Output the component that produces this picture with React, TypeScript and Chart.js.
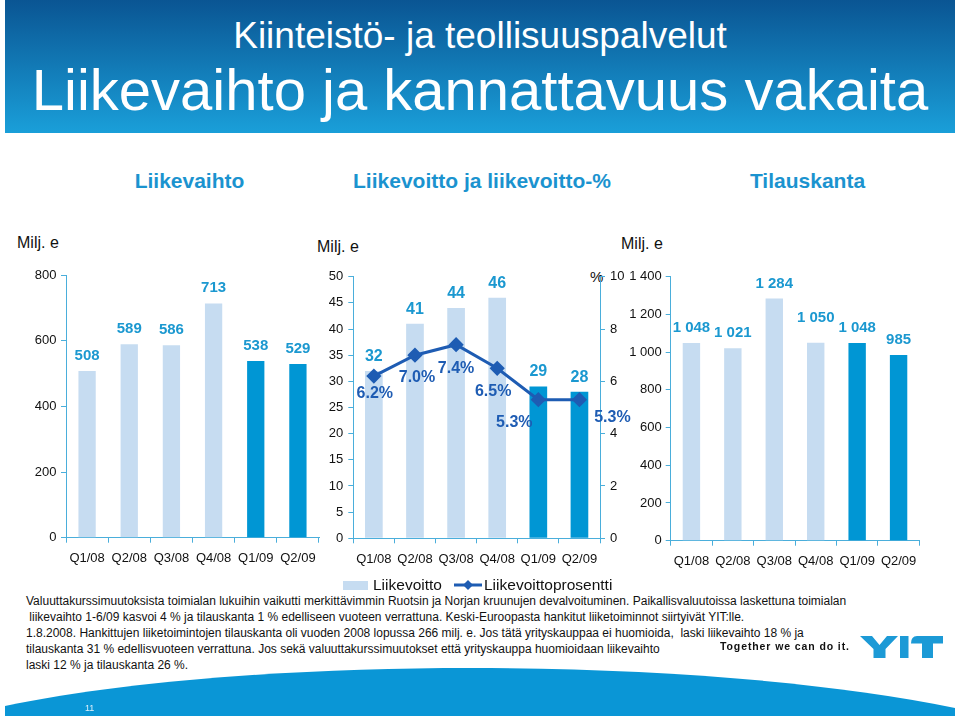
import { useEffect, useRef } from 'react';
import { Chart, registerables } from 'chart.js';

Chart.register(...registerables);

// ---------- data ----------
const quarters = ['Q1/08', 'Q2/08', 'Q3/08', 'Q4/08', 'Q1/09', 'Q2/09'];
const liikevaihto = [508, 589, 586, 713, 538, 529];
const liikevoitto = [32, 41, 44, 46, 29, 28];
const liikevoittoPct = [6.2, 7.0, 7.4, 6.5, 5.3, 5.3];
const tilauskanta = [1048, 1021, 1284, 1050, 1048, 985];

const liikevaihtoTicks = [0, 200, 400, 600, 800];
const liikevoittoTicks = [0, 5, 10, 15, 20, 25, 30, 35, 40, 45, 50];
const pctTicks = [0, 2, 4, 6, 8, 10];
const tilauskantaTicks = [0, 200, 400, 600, 800, 1000, 1200, 1400];

// label placement tweaks (relative to the point / bar top)
const pctLabelOffsets = [[1, 17], [2, 22], [0, 24], [-4, 23], [-24, 23], [33, 18]];
const tilausLabelRaise = [0, 0, 0, 10, 0, 0];

const footerLines = [
  'Valuuttakurssimuutoksista toimialan lukuihin vaikutti merkittävimmin Ruotsin ja Norjan kruunujen devalvoituminen. Paikallisvaluutoissa laskettuna toimialan',
  ' liikevaihto 1-6/09 kasvoi 4 % ja tilauskanta 1 % edelliseen vuoteen verrattuna. Keski-Euroopasta hankitut liiketoiminnot siirtyivät YIT:lle.',
  '1.8.2008. Hankittujen liiketoimintojen tilauskanta oli vuoden 2008 lopussa 266 milj. e. Jos tätä yrityskauppaa ei huomioida,  laski liikevaihto 18 % ja',
  'tilauskanta 31 % edellisvuoteen verrattuna. Jos sekä valuuttakurssimuutokset että yrityskauppa huomioidaan liikevaihto',
  'laski 12 % ja tilauskanta 26 %.',
];

// ---------- styles ----------
const FONT = "'Liberation Sans', Arial, Helvetica, sans-serif";
const AXIS = '#4aaedb';
const LIGHT = '#c6dcf1';
const DARK = '#0096d4';
const LABEL_BLUE = '#1b98d0';
const LINE_BLUE = '#1e5cb3';
const SUB_BLUE = '#1b93cf';

const fmt = (v: number) => String(v).replace(/\B(?=(\d{3})+(?!\d))/g, ' ');
const barColors = quarters.map((q) => (q.endsWith('/09') ? DARK : LIGHT));

const xScale = (height: number) => ({
  type: 'category',
  offset: true,
  grid: { display: true, drawOnChartArea: false, drawTicks: true, tickLength: 5, color: AXIS, offset: true },
  border: { display: true, color: AXIS, width: 1 },
  ticks: { color: '#111', font: { family: FONT, size: 13 }, padding: 8, maxRotation: 0, autoSkip: false },
  afterFit: (s: any) => { s.height = height; },
});

const yScale = (ticksArr: number[], width: number, position: string, padding: number) => ({
  type: 'linear',
  position,
  min: ticksArr[0],
  max: ticksArr[ticksArr.length - 1],
  afterBuildTicks: (s: any) => { s.ticks = ticksArr.map((v) => ({ value: v })); },
  grid: { drawOnChartArea: false, drawTicks: true, tickLength: 5, color: AXIS },
  border: { display: true, color: AXIS, width: 1 },
  ticks: { color: '#111', font: { family: FONT, size: 13 }, padding, callback: (v: any) => fmt(Number(v)) },
  afterFit: (s: any) => { s.width = width; },
});

const valueLabels = (dsIndex: number, raise: number, size: number, extra?: number[]) => ({
  id: 'valueLabels',
  afterDatasetsDraw(chart: any) {
    const meta = chart.getDatasetMeta(dsIndex);
    const data = chart.data.datasets[dsIndex].data as number[];
    const ctx = chart.ctx;
    ctx.save();
    ctx.font = `bold ${size}px ${FONT}`;
    ctx.fillStyle = LABEL_BLUE;
    ctx.textAlign = 'center';
    ctx.textBaseline = 'middle';
    meta.data.forEach((el: any, i: number) => {
      ctx.fillText(fmt(data[i]), el.x, el.y - raise - (extra ? extra[i] : 0));
    });
    ctx.restore();
  },
});

const pctLabels = (dsIndex: number) => ({
  id: 'pctLabels',
  afterDatasetsDraw(chart: any) {
    const meta = chart.getDatasetMeta(dsIndex);
    const data = chart.data.datasets[dsIndex].data as number[];
    const ctx = chart.ctx;
    ctx.save();
    ctx.font = `bold 16px ${FONT}`;
    ctx.fillStyle = LINE_BLUE;
    ctx.textAlign = 'center';
    ctx.textBaseline = 'middle';
    meta.data.forEach((el: any, i: number) => {
      const [dx, dy] = pctLabelOffsets[i];
      ctx.fillText(data[i].toFixed(1) + '%', el.x + dx, el.y + dy);
    });
    ctx.restore();
  },
});

const baseOptions = (padding: any) => ({
  responsive: false,
  animation: false,
  devicePixelRatio: 1,
  layout: { padding },
  plugins: { legend: { display: false }, tooltip: { enabled: false } },
});

export default function App() {
  const leftRef = useRef<HTMLCanvasElement>(null);
  const midRef = useRef<HTMLCanvasElement>(null);
  const rightRef = useRef<HTMLCanvasElement>(null);

  useEffect(() => {
    const charts: Chart[] = [];
    charts.push(
      new Chart(leftRef.current as HTMLCanvasElement, {
        type: 'bar',
        data: {
          labels: quarters,
          datasets: [{ data: liikevaihto, backgroundColor: barColors, barPercentage: 0.41, categoryPercentage: 1 }],
        },
        options: {
          ...baseOptions({ left: 0, top: 15, right: 11, bottom: 0 }),
          scales: { x: xScale(42.3), y: yScale(liikevaihtoTicks, 66, 'left', 4.5) },
        } as any,
        plugins: [valueLabels(0, 15.5, 15)],
      })
    );
    charts.push(
      new Chart(midRef.current as HTMLCanvasElement, {
        type: 'bar',
        data: {
          labels: quarters,
          datasets: [
            {
              type: 'bar',
              data: liikevoitto,
              yAxisID: 'y',
              order: 1,
              backgroundColor: barColors,
              barPercentage: 0.43,
              categoryPercentage: 1,
            },
            {
              type: 'line',
              data: liikevoittoPct,
              yAxisID: 'y1',
              order: 0,
              borderColor: LINE_BLUE,
              borderWidth: 3,
              pointStyle: 'rectRot',
              pointRadius: 5.5,
              pointBackgroundColor: LINE_BLUE,
              pointBorderColor: LINE_BLUE,
              tension: 0,
            },
          ],
        } as any,
        options: {
          ...baseOptions({ left: 0, top: 16.7, right: 0, bottom: 0 }),
          scales: {
            x: xScale(41.7),
            y: yScale(liikevoittoTicks, 63.3, 'left', 5),
            y1: yScale(pctTicks, 50, 'right', 5),
          },
        } as any,
        plugins: [valueLabels(0, 14.5, 16), pctLabels(1)],
      })
    );
    charts.push(
      new Chart(rightRef.current as HTMLCanvasElement, {
        type: 'bar',
        data: {
          labels: quarters,
          datasets: [{ data: tilauskanta, backgroundColor: barColors, barPercentage: 0.42, categoryPercentage: 1 }],
        },
        options: {
          ...baseOptions({ left: 0, top: 16.7, right: 40.7, bottom: 0 }),
          scales: { x: xScale(39.3), y: yScale(tilauskantaTicks, 50.7, 'left', 4) },
        } as any,
        plugins: [valueLabels(0, 15, 15, tilausLabelRaise)],
      })
    );
    return () => charts.forEach((c) => c.destroy());
  }, []);

  const abs = (s: any) => ({ position: 'absolute', margin: 0, fontFamily: FONT, whiteSpace: 'pre', ...s });

  return (
    <div style={{ position: 'absolute', left: 0, top: 0, width: 960, height: 716, overflow: 'hidden', background: '#fff', fontFamily: FONT }}>
      {/* header */}
      <div style={abs({ left: 5, top: 0, width: 950, height: 133, background: 'linear-gradient(180deg, #0a5593 0%, #1a9fd9 100%)' })}>
        <div style={abs({ left: 0, top: 17, width: 950, textAlign: 'center', color: '#fff', fontSize: 37, lineHeight: '37px' })}>
          Kiinteistö- ja teollisuuspalvelut
        </div>
        <div style={abs({ left: 0, top: 61, width: 950, textAlign: 'center', color: '#fff', fontSize: 58, lineHeight: '58px' })}>
          Liikevaihto ja kannattavuus vakaita
        </div>
      </div>

      {/* section titles */}
      {[
        ['Liikevaihto', 189.5],
        ['Liikevoitto ja liikevoitto-%', 482],
        ['Tilauskanta', 807.5],
      ].map(([t, cx]) => (
        <div key={t as string} style={abs({ left: (cx as number) - 200, top: 170.2, width: 400, textAlign: 'center', color: SUB_BLUE, fontWeight: 'bold', fontSize: 21, lineHeight: '21px' })}>
          {t}
        </div>
      ))}

      {/* unit labels */}
      <div style={abs({ left: 17, top: 235, fontSize: 16, lineHeight: '16px', color: '#111' })}>Milj. e</div>
      <div style={abs({ left: 317, top: 239, fontSize: 16, lineHeight: '16px', color: '#111' })}>Milj. e</div>
      <div style={abs({ left: 621, top: 236, fontSize: 16, lineHeight: '16px', color: '#111' })}>Milj. e</div>
      <div style={abs({ left: 590, top: 268.7, fontSize: 15, lineHeight: '15px', color: '#111' })}>%</div>

      {/* charts */}
      <canvas ref={leftRef} width={330} height={320} style={{ position: 'absolute', left: 0, top: 260, width: 330, height: 320 }} />
      <canvas ref={midRef} width={360} height={320} style={{ position: 'absolute', left: 290, top: 260, width: 360, height: 320 }} />
      <canvas ref={rightRef} width={340} height={320} style={{ position: 'absolute', left: 620, top: 260, width: 340, height: 320 }} />

      {/* legend for middle chart */}
      <div style={abs({ left: 343, top: 581, width: 25, height: 9, background: LIGHT })} />
      <div style={abs({ left: 373, top: 577.4, fontSize: 15.5, lineHeight: '15.5px', color: '#111' })}>Liikevoitto</div>
      <svg style={{ position: 'absolute', left: 452, top: 578 }} width={32} height={14}>
        <line x1={2} y1={7} x2={30} y2={7} stroke={LINE_BLUE} strokeWidth={3} />
        <polygon points="16,2 21,7 16,12 11,7" fill={LINE_BLUE} />
      </svg>
      <div style={abs({ left: 484, top: 577.4, fontSize: 15.5, lineHeight: '15.5px', color: '#111' })}>Liikevoittoprosentti</div>

      {/* footer text */}
      <div style={abs({ left: 26, top: 594.4, fontSize: 12, lineHeight: '15.8px', color: '#111' })}>
        {footerLines.join('\n')}
      </div>

      {/* bottom arc + logo */}
      <svg style={{ position: 'absolute', left: 0, top: 0 }} width={960} height={716}>
        <path d="M5,716 L5,706 C250,655 700,655 955,708 L955,716 Z" fill="#0a96d6" />
        <g fill="#1c9ad6">
          <polygon points="860,636 872,636 879.5,645 887,636 898,636 885.5,649 885.5,658 873.5,658 873.5,649" />
          <rect x={900} y={636} width={8.5} height={22} />
          <path d="M917,636 L943,636 L943,643.5 L933,643.5 L933,658 L922,658 L922,643.5 L911,643.5 Q911,636 917,636 Z" />
        </g>
      </svg>
      <div style={abs({ left: 720, top: 641, fontSize: 10.5, lineHeight: '10.5px', fontWeight: 'bold', letterSpacing: '0.9px', color: '#111' })}>
        Together we can do it.
      </div>
      <div style={abs({ left: 85, top: 704.4, fontSize: 9, lineHeight: '9px', color: '#dff0fb' })}>11</div>
    </div>
  );
}
